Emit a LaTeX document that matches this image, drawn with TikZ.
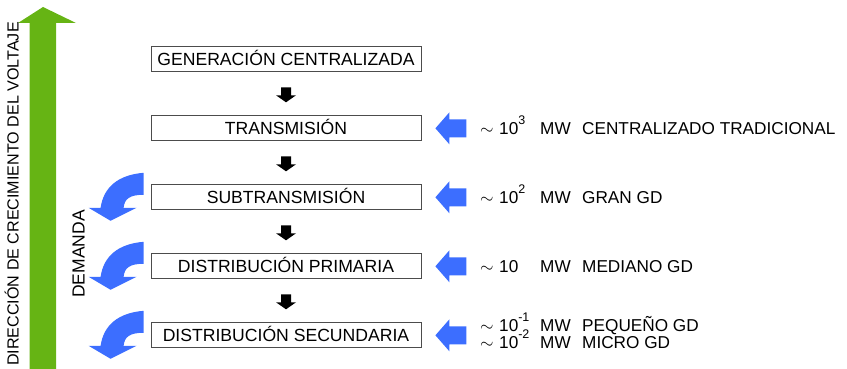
\documentclass[tikz,border=0pt]{standalone}
\usepackage{fontspec}
\setmainfont{Liberation Sans}
\usetikzlibrary{calc}
\definecolor{vgreen}{RGB}{102,180,20}
\definecolor{vblue}{RGB}{60,110,255}
\newcommand\supx[1]{\raisebox{10pt}{\fontsize{12.5}{12.5}\selectfont #1}}
\newcommand\rowtxt[3]{\makebox[19pt][l]{$\sim$}\makebox[41pt][l]{#1}\makebox[42pt][l]{MW}#3}
\tikzset{
  stage/.style={draw=black!70, line width=0.8pt, minimum width=270pt, minimum height=25pt,
    inner sep=0pt, text height=12.5pt, text depth=0pt, font=\fontsize{17.6}{20}\selectfont},
  rlab/.style={anchor=base west, inner sep=0pt, font=\fontsize{17.2}{20}\selectfont},
  dnarrow/.style={fill=black},
  genarrow/.style={fill=vblue},
}
\begin{document}
\begin{tikzpicture}[x=1pt,y=-1pt]
\useasboundingbox (0,0) rectangle (847,369);
% green arrow
\fill[vgreen] (29.5,369) -- (29.5,23) -- (18,23) -- (43,7) -- (76,23) -- (56,23) -- (56,369) -- cycle;
\node[rotate=90, anchor=base, inner sep=0pt, font=\fontsize{16.1}{18}\selectfont] (volt) at (18.5,194) {DIRECCIÓN DE CRECIMIENTO DEL VOLTAJE};
\node[rotate=90, anchor=base, inner sep=0pt, font=\fontsize{17.5}{20}\selectfont] (dem) at (84.5,254) {DEMANDA};
% stages
\node[stage] (g) at (286,58.8) {GENERACIÓN CENTRALIZADA};
\node[stage] (t) at (286,127.8) {TRANSMISIÓN};
\node[stage] (s) at (286,196.8) {SUBTRANSMISIÓN};
\node[stage] (p) at (286,265.8) {DISTRIBUCIÓN PRIMARIA};
\node[stage] (d) at (286,334.8) {DISTRIBUCIÓN SECUNDARIA};
% black arrows between stages
\foreach \a/\b/\m in {g/t/m1, t/s/m2, s/p/m3, p/d/m4}{
  \coordinate (\m) at ($(\a.south)!0.5!(\b.north)$);
  \fill[dnarrow, shift={(\m)}] (-5,-6) -- (5,-6) -- (5,2) -- (10,2) -- (0,9) -- (-10,2) -- (-5,2) -- cycle;
}
% blue generation arrows (right side)
\foreach \n/\k in {t/ra1, s/ra2, p/ra3, d/ra4}{
  \coordinate (\k) at ($(\n.east)+(14,0.5)$);
  \fill[genarrow, shift={(\k)}] (0,0) -- (14,-16) -- (14,-9) -- (31,-9) -- (31,9) -- (14,9) -- (14,16) -- cycle;
}
% blue demand arrows (left side)
\foreach \n/\k in {s/la1, p/la2, d/la3}{
  \coordinate (\k) at (\n.west);
  \fill[genarrow, shift={(\k)}] (-7,-24) .. controls (-32,-22) and (-47,-10) .. (-50,11)
     -- (-62,11) -- (-40,24) -- (-14,11) -- (-27,11)
     .. controls (-26,2) and (-21,-2) .. (-7,-2) -- cycle;
}
% labels
\node[rlab] (l1) at (480,134.3) {\rowtxt{10\supx{3}}{}{CENTRALIZADO TRADICIONAL}};
\node[rlab] (l2) at (480,203.3) {\rowtxt{10\supx{2}}{}{GRAN GD}};
\node[rlab] (l3) at (480,272.3) {\rowtxt{10}{}{MEDIANO GD}};
\node[rlab] (l4) at (480,331.5) {\rowtxt{10\supx{-1}}{}{PEQUEÑO GD}};
\node[rlab] (l5) at (480,348.5) {\rowtxt{10\supx{-2}}{}{MICRO GD}};
\end{tikzpicture}
\end{document}
